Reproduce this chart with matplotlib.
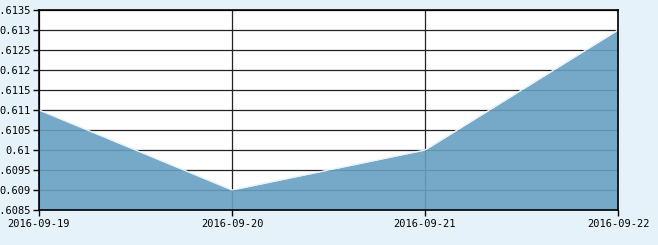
import matplotlib
matplotlib.use("Agg")
import matplotlib.pyplot as plt

dates = ["2016-09-19", "2016-09-20", "2016-09-21", "2016-09-22"]
values = [0.611, 0.609, 0.610, 0.613]
yticks = [0.6085, 0.609, 0.6095, 0.61, 0.6105, 0.611, 0.6115, 0.612, 0.6125, 0.613, 0.6135]
ytick_labels = ["0.6085", "0.609", "0.6095", "0.61", "0.6105", "0.611", "0.6115", "0.612", "0.6125", "0.613", "0.6135"]

bg = "#e6f2fa"
fig = plt.figure(figsize=(6.58, 2.45), dpi=100, facecolor=bg)
W, H = 658, 245
ax = fig.add_axes([39 / W, (245 - 210) / H, (618 - 39) / W, (210 - 10) / H])
ax.set_facecolor("white")

x = list(range(len(dates)))
ax.fill_between(x, values, yticks[0], color="#67a0c2", alpha=0.9, zorder=3, linewidth=0)
ax.plot(x, values, color="#e8f2f8", linewidth=1.0, zorder=4)

ax.set_xlim(0, len(dates) - 1)
ax.set_ylim(yticks[0], yticks[-1])
ax.set_xticks(x)
ax.set_xticklabels(dates)
ax.set_yticks(yticks)
ax.set_yticklabels(ytick_labels)

ax.grid(True, color="#222222", linewidth=0.9, zorder=1)
ax.set_axisbelow(True)
for s in ax.spines.values():
    s.set_color("black")
    s.set_linewidth(1.2)
    s.set_zorder(5)

ax.tick_params(axis="both", direction="out", length=4, width=1, color="black",
               labelsize=7.5, labelcolor="black")
ax.tick_params(axis="x", pad=2.5)
ax.tick_params(axis="y", pad=2)
for lab in ax.get_xticklabels() + ax.get_yticklabels():
    lab.set_family("DejaVu Sans Mono")

fig.savefig("out.png", dpi=100, facecolor=bg)
